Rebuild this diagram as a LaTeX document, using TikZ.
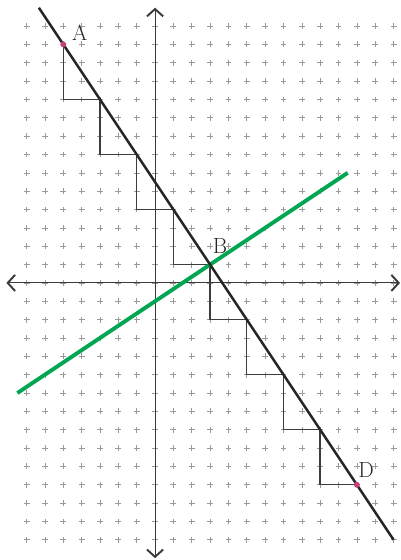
\documentclass[tikz,border=0pt]{standalone}
\usepackage{tikz}
\usetikzlibrary{arrows.meta,calc}
\definecolor{rgrid}{HTML}{9A9A9A}
\definecolor{raxis}{HTML}{3A3A3A}
\definecolor{rstepline}{HTML}{3C3C3C}
\definecolor{rgreen}{HTML}{00A651}
\definecolor{rdot}{HTML}{C8407A}
\tikzset{rplus/.style={draw=rgrid, line width=0.5pt}}
\tikzset{raxisline/.style={draw=raxis, line width=0.7pt, {Straight Barb[length=2mm, width=4.4mm, line width=1.5pt]}-{Straight Barb[length=2mm, width=4.4mm, line width=1.5pt]}}}
\tikzset{rstepedge/.style={draw=rstepline, line width=1.1pt}}
\tikzset{rmainline/.style={draw=black!85, line width=1.9pt}}
\tikzset{rperp/.style={draw=rgreen, line width=3pt}}
\tikzset{rpoint/.style={circle, fill=rdot, inner sep=0pt, minimum size=1.6mm}}
\tikzset{rlabel/.style={font=\fontsize{17}{20}\selectfont, inner sep=0pt, text=black!85}}

\begin{document}
\begin{tikzpicture}[x=0.5cm, y=0.5cm]
  \useasboundingbox (-8.45,-15.10) rectangle (13.40,15.42);

  % grid of crosses
  \foreach \x in {-7,...,13}
    \foreach \y in {-14,...,14}
      \draw[rplus] (\x-0.16,\y) -- (\x+0.16,\y) (\x,\y-0.16) -- (\x,\y+0.16);

  % axes
  \coordinate (xleft) at (-8.1,0);
  \coordinate (xright) at (13.35,0);
  \coordinate (ytop) at (0,15);
  \coordinate (ybottom) at (0,-15);
  \draw[raxisline] (xleft) -- (xright);
  \draw[raxisline] (ybottom) -- (ytop);

  % points on the line, A = s0, B = s4, D = s8
  \foreach \k in {0,...,8}
    \coordinate (s\k) at ({-5+2*\k},{13-3*\k});

  % steps
  \foreach \k [evaluate=\k as \n using int(\k+1)] in {0,...,7}
    \draw[rstepedge] (s\k) |- (s\n);

  % perpendicular through B
  \coordinate (gleft) at (-7.5,-6);
  \coordinate (gright) at (10.5,6);
  \draw[rperp] (gleft) -- (gright);

  % line through A, B and D
  \coordinate (ltop) at (-6.333,15);
  \coordinate (lbottom) at (13,-14);
  \draw[rmainline] (ltop) -- (lbottom);

  \node[rpoint] (ptA) at (s0) {};
  \node[rpoint] (ptD) at (s8) {};

  \node[rlabel] (labA) at (-4.1,13.62) {A};
  \node[rlabel] (labB) at (3.54,2.02) {B};
  \node[rlabel] (labD) at (11.5,-10.2) {D};
\end{tikzpicture}
\end{document}
